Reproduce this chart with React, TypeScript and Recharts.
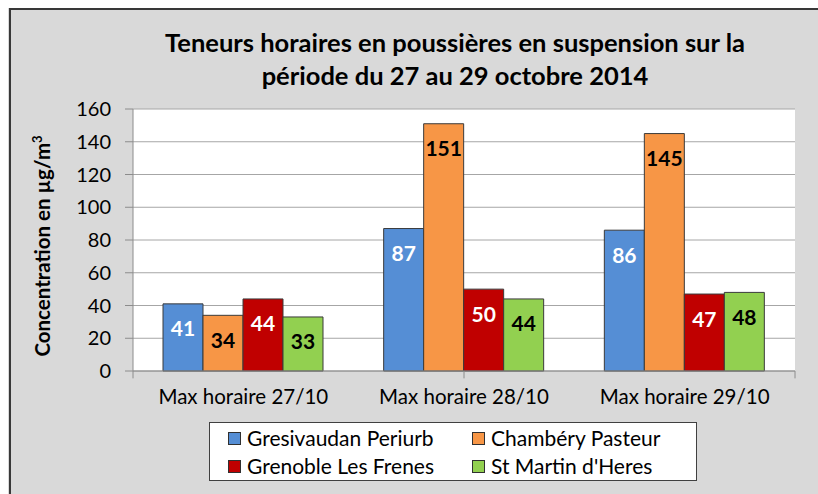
import { BarChart, Bar, XAxis, YAxis, CartesianGrid, LabelList, ReferenceLine } from "recharts";

const categories = ["Max horaire 27/10", "Max horaire 28/10", "Max horaire 29/10"];
const gresivaudan = [41, 87, 86];
const chambery = [34, 151, 145];
const grenoble = [44, 50, 47];
const stMartin = [33, 44, 48];
const yTicks = [0, 20, 40, 60, 80, 100, 120, 140, 160];

const series = [
  { key: "gresivaudan", name: "Gresivaudan Periurb", color: "#558ed5", label: "#ffffff" },
  { key: "chambery", name: "Chambéry Pasteur", color: "#f79646", label: "#000000" },
  { key: "grenoble", name: "Grenoble Les Frenes", color: "#c00000", label: "#ffffff" },
  { key: "stMartin", name: "St Martin d'Heres", color: "#92d050", label: "#000000" },
];

const data = categories.map((cat, i) => ({
  cat,
  gresivaudan: gresivaudan[i],
  chambery: chambery[i],
  grenoble: grenoble[i],
  stMartin: stMartin[i],
}));

const FONT = "Lato, 'Liberation Sans', sans-serif";
const GRID = "#a6a6a6";

const barLabel = (color: string) => (props: any) => {
  const { x, y, width, value } = props;
  return (
    <text
      x={x + width / 2}
      y={y + 24}
      textAnchor="middle"
      dominantBaseline="central"
      fill={color}
      fontFamily={FONT}
      fontWeight={700}
      fontSize={21}
    >
      {value}
    </text>
  );
};

const YTitle = () => (
  <text
    transform="translate(42, 238) rotate(-90)"
    textAnchor="middle"
    fontFamily={FONT}
    fontWeight={700}
    fontSize={20.5}
    fill="#000"
  >
    Concentration en µg/m
    <tspan fontSize={13} dy={-8}>3</tspan>
  </text>
);

export default function App() {
  return (
    <>
      <style>{"html,body{overflow:hidden;}"}</style>
      <div
        style={{
          position: "absolute",
          left: 8,
          top: 8,
          width: 810,
          height: 486,
          background: "#d9d9d9",
          overflow: "hidden",
          fontFamily: FONT,
        }}
      >
        <div
          style={{
            position: "absolute",
            left: 1,
            top: 0,
            width: 900,
            height: 600,
            borderLeft: "2px solid #383838",
            borderTop: "2px solid #383838",
          }}
        />
        <svg
          width={810}
          height={100}
          style={{ position: "absolute", left: 0, top: 0 }}
        >
          <text x={447} y={44} textAnchor="middle" fontFamily={FONT} fontWeight={700} fontSize={25.5} fill="#000">
            Teneurs horaires en poussières en suspension sur la
          </text>
          <text x={447} y={77} textAnchor="middle" fontFamily={FONT} fontWeight={700} fontSize={25.5} fill="#000">
            période du 27 au 29 octobre 2014
          </text>
        </svg>
        <div style={{ position: "absolute", left: 0, top: 0 }}>
          <BarChart
            width={810}
            height={486}
            data={data}
            margin={{ top: 101, right: 23, left: 0, bottom: 83 }}
            barCategoryGap={30}
            barGap={0}
          >
            <CartesianGrid vertical={false} stroke={GRID} fill="#ffffff" />
            <XAxis xAxisId="b" type="number" domain={[0, 3]} hide allowDataOverflow />
            <XAxis
              dataKey="cat"
              height={40}
              tickLine={false}
              axisLine={{ stroke: "#8c8c8c" }}
              tick={{ fill: "#000", fontSize: 20.5, fontFamily: FONT }}
              tickMargin={12}
            />
            <YAxis
              width={125}
              domain={[0, 160]}
              ticks={yTicks}
              interval={0}
              tickSize={8}
              tickMargin={14}
              tickLine={{ stroke: "#8c8c8c" }}
              axisLine={{ stroke: "#8c8c8c" }}
              tick={{ fill: "#000", fontSize: 20, fontFamily: FONT }}
              label={<YTitle />}
            />
            <ReferenceLine xAxisId="b" x={3} stroke={GRID} strokeWidth={2} />
            {[0, 1, 2, 3].map((v) => (
              <ReferenceLine
                key={v}
                xAxisId="b"
                ifOverflow="visible"
                segment={[
                  { x: v, y: 0 },
                  { x: v, y: -4.5 },
                ]}
                stroke="#8c8c8c"
              />
            ))}
            {series.map((s) => (
              <Bar
                key={s.key}
                dataKey={s.key}
                name={s.name}
                fill={s.color}
                stroke="#3a3a3a"
                strokeWidth={1}
                isAnimationActive={false}
              >
                <LabelList dataKey={s.key} content={barLabel(s.label)} />
              </Bar>
            ))}
          </BarChart>
        </div>
        <div
          style={{
            position: "absolute",
            left: 201,
            top: 414,
            width: 486,
            height: 57,
            background: "#fff",
            border: "1px solid #404040",
          }}
        >
          {series.map((s, i) => (
            <div
              key={s.key}
              style={{
                position: "absolute",
                left: i % 2 === 0 ? 18 : 262,
                top: i < 2 ? 4 : 32,
                display: "flex",
                alignItems: "center",
                fontSize: 21,
                color: "#000",
                whiteSpace: "nowrap",
                lineHeight: "22px",
              }}
            >
              <span
                style={{
                  display: "inline-block",
                  width: 11,
                  height: 11,
                  background: s.color,
                  border: "1px solid #303030",
                  marginRight: 6,
                }}
              />
              {s.name}
            </div>
          ))}
        </div>
      </div>
    </>
  );
}
